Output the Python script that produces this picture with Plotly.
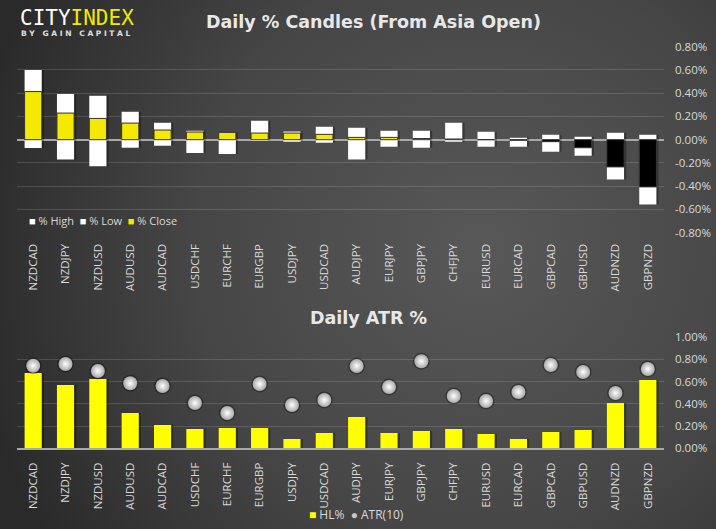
import base64
import plotly.graph_objects as go

# ---------------- data ----------------
pairs = ["NZDCAD", "NZDJPY", "NZDUSD", "AUDUSD", "AUDCAD", "USDCHF", "EURCHF",
         "EURGBP", "USDJPY", "USDCAD", "AUDJPY", "EURJPY", "GBPJPY", "CHFJPY",
         "EURUSD", "EURCAD", "GBPCAD", "GBPUSD", "AUDNZD", "GBPNZD"]
pct_high = [0.60, 0.394, 0.377, 0.24, 0.146, 0.077, 0.063, 0.163, 0.071, 0.111,
            0.103, 0.077, 0.077, 0.146, 0.069, 0.017, 0.043, 0.026, 0.060, 0.043]
pct_low = [-0.071, -0.171, -0.229, -0.069, -0.051, -0.114, -0.123, -0.006, -0.010, -0.026,
           -0.171, -0.060, -0.069, -0.017, -0.060, -0.060, -0.103, -0.137, -0.343, -0.557]
pct_close = [0.414, 0.229, 0.183, 0.143, 0.083, 0.066, 0.063, 0.057, 0.057, 0.046,
             0.020, 0.020, 0.010, 0.006, 0.000, -0.005, -0.017, -0.069, -0.234, -0.406]
hl_pct = [0.677, 0.569, 0.623, 0.317, 0.209, 0.173, 0.182, 0.182, 0.083, 0.137,
          0.281, 0.137, 0.155, 0.173, 0.128, 0.083, 0.146, 0.164, 0.407, 0.614]
atr10 = [0.742, 0.758, 0.695, 0.584, 0.560, 0.407, 0.317, 0.578, 0.389, 0.434,
         0.740, 0.551, 0.782, 0.470, 0.425, 0.506, 0.749, 0.686, 0.497, 0.713]
top_ticks = [0.8, 0.6, 0.4, 0.2, 0.0, -0.2, -0.4, -0.6, -0.8]
bot_ticks = [1.0, 0.8, 0.6, 0.4, 0.2, 0.0]
top_legend = ["% High", "% Low", "% Close"]
bot_legend = ["HL%", "ATR(10)"]

YELLOW = "#f5e900"
BAR_YELLOW = "#ffff00"
TXT = "#d9d9d9"
FONT = "Open Sans"
BW = 0.53

close_colors = [YELLOW if c >= 0 else "#000000" for c in pct_close]

# background gradient as svg
svg = """<svg xmlns='http://www.w3.org/2000/svg' width='716' height='529'>
<defs><radialGradient id='g' cx='480' cy='250' r='520' gradientUnits='userSpaceOnUse'>
<stop offset='0' stop-color='#585858'/><stop offset='0.55' stop-color='#464646'/>
<stop offset='1' stop-color='#2a2a2a'/></radialGradient></defs>
<rect width='716' height='529' fill='url(#g)'/></svg>"""
bg_uri = "data:image/svg+xml;base64," + base64.b64encode(svg.encode()).decode()

fig = go.Figure()

# shadows (top)
for vals in (pct_high, pct_low):
    fig.add_trace(go.Bar(x=pairs, y=vals, width=BW, offset=-BW / 2 + 0.07,
                         marker=dict(color="rgba(0,0,0,0.3)", line=dict(width=0)),
                         showlegend=False, hoverinfo="skip", xaxis="x", yaxis="y"))
fig.add_trace(go.Bar(x=pairs, y=pct_high, name=top_legend[0], width=BW, offset=-BW / 2,
                     marker=dict(color="#ffffff", line=dict(width=0)),
                     xaxis="x", yaxis="y"))
fig.add_trace(go.Bar(x=pairs, y=pct_low, name=top_legend[1], width=BW, offset=-BW / 2,
                     marker=dict(color="#ffffff", line=dict(width=0)),
                     xaxis="x", yaxis="y"))
fig.add_trace(go.Bar(x=pairs, y=pct_close, name=top_legend[2], width=BW, offset=-BW / 2,
                     marker=dict(color=close_colors, line=dict(width=1, color="#303030")),
                     xaxis="x", yaxis="y"))

# bottom chart
fig.add_trace(go.Bar(x=pairs, y=hl_pct, width=BW, offset=-BW / 2 + 0.07,
                     marker=dict(color="rgba(0,0,0,0.3)", line=dict(width=0)),
                     hoverinfo="skip", xaxis="x2", yaxis="y2"))
fig.add_trace(go.Bar(x=pairs, y=hl_pct, name=bot_legend[0], width=BW, offset=-BW / 2,
                     marker=dict(color=BAR_YELLOW, line=dict(width=0)),
                     xaxis="x2", yaxis="y2"))
fig.add_trace(go.Scatter(x=pairs, y=atr10, mode="markers", hoverinfo="skip",
                         marker=dict(size=17, color="rgba(0,0,0,0.3)", line=dict(width=0)),
                         xaxis="x2", yaxis="y2"))
fig.add_trace(go.Scatter(x=pairs, y=atr10, mode="markers", name=bot_legend[1],
                         marker=dict(size=14, color="#a8a8a8", line=dict(width=0),
                                     gradient=dict(type="radial", color="#ffffff")),
                         xaxis="x2", yaxis="y2"))

W, H = 716, 529
xdom = [17 / W, 664 / W]
top_dom = [1 - 232.7 / H, 1 - 46.7 / H]
bot_dom = [1 - 448.3 / H, 1 - 337.0 / H]
grid = "rgba(255,255,255,0.14)"

fig.update_layout(
    width=W, height=H, margin=dict(l=0, r=0, t=0, b=0, autoexpand=False),
    paper_bgcolor="#3f3f3f", plot_bgcolor="rgba(0,0,0,0)",
    barmode="overlay", showlegend=False,
    font=dict(family=FONT, color=TXT, size=11),
    images=[dict(source=bg_uri, xref="paper", yref="paper", x=0, y=1, sizex=1, sizey=1,
                 xanchor="left", yanchor="top", sizing="stretch", layer="below")],
    xaxis=dict(domain=xdom, anchor="y", type="category", tickangle=-90,
               showgrid=False, zeroline=False, showline=False, ticks="",
               ticklabelstandoff=8, tickfont=dict(size=11.5, color=TXT),
               range=[-0.5, len(pairs) - 0.5]),
    yaxis=dict(domain=top_dom, anchor="x", side="right", range=[-0.8, 0.8],
               tickvals=top_ticks, ticktext=[f"{v:.2f}%" for v in top_ticks],
               showgrid=True, gridcolor=grid, gridwidth=1,
               zeroline=True, zerolinecolor="#a8a8a8", zerolinewidth=1.5,
               ticks="", ticklabelstandoff=10, tickfont=dict(size=11.5, color=TXT)),
    xaxis2=dict(domain=xdom, anchor="y2", type="category", tickangle=-90,
                showgrid=False, zeroline=False, showline=True, linecolor="#a8a8a8",
                linewidth=1.5, ticks="", ticklabelstandoff=8,
                tickfont=dict(size=11.5, color=TXT), range=[-0.5, len(pairs) - 0.5]),
    yaxis2=dict(domain=bot_dom, anchor="x2", side="right", range=[0, 1.0],
                tickvals=bot_ticks, ticktext=[f"{v:.2f}%" for v in bot_ticks],
                showgrid=True, gridcolor=grid, zeroline=False,
                ticks="", ticklabelstandoff=10, tickfont=dict(size=11.5, color=TXT)),
)

# legends drawn as text
sq = lambda c: f"<span style='color:{c}'>■</span>"
top_leg_text = "  ".join([f"{sq('#ffffff')} {top_legend[0]}", f"{sq('#ffffff')} {top_legend[1]}",
                          f"{sq(YELLOW)} {top_legend[2]}"])
fig.add_annotation(text=top_leg_text, xref="paper", yref="paper", x=27 / W, y=1 - 220 / H,
                   xanchor="left", yanchor="middle", showarrow=False,
                   font=dict(family=FONT, size=11, color=TXT))
bot_leg_text = f"{sq(BAR_YELLOW)} {bot_legend[0]}  <span style='color:#c8c8c8'>●</span> {bot_legend[1]}"
fig.add_annotation(text=bot_leg_text, xref="paper", yref="paper", x=356 / W, y=1 - 514 / H,
                   xanchor="center", yanchor="middle", showarrow=False,
                   font=dict(family=FONT, size=12, color=TXT))

fig.add_annotation(text="Daily % Candles (From Asia Open)", xref="paper", yref="paper",
                   x=373 / W, y=1 - 22 / H, xanchor="center", yanchor="middle", showarrow=False,
                   font=dict(family="DejaVu Sans", size=17.5, color="#e8e8e8", weight="bold"))
fig.add_annotation(text="Daily ATR %", xref="paper", yref="paper",
                   x=368 / W, y=1 - 318 / H, xanchor="center", yanchor="middle", showarrow=False,
                   font=dict(family="DejaVu Sans", size=17.5, color="#e8e8e8", weight="bold"))
fig.add_annotation(text="CITY<span style='color:" + YELLOW + "'>INDEX</span>",
                   xref="paper", yref="paper", x=18 / W, y=1 - 18 / H,
                   xanchor="left", yanchor="middle", showarrow=False,
                   font=dict(family="DejaVu Sans Mono", size=21, color="#ffffff"))
fig.add_annotation(text="B Y   G A I N   C A P I T A L", xref="paper", yref="paper",
                   x=19 / W, y=1 - 33 / H, xanchor="left", yanchor="middle", showarrow=False,
                   font=dict(family="DejaVu Sans", size=7.5, color="#e0e0e0", weight="bold"))

fig.write_html("out.html")
